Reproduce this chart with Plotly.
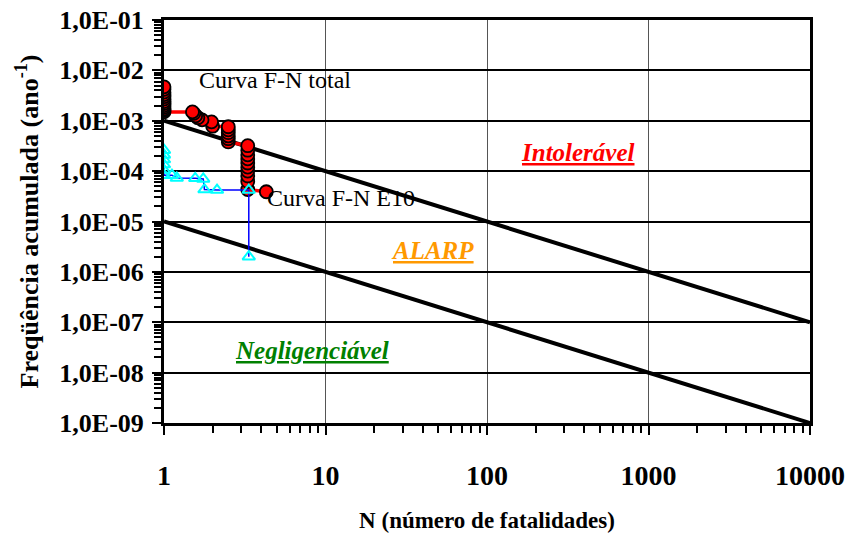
import plotly.graph_objects as go

# ---------------- data ----------------
# F-N curve "total" (red circles)
n_total = [1, 1, 1, 1, 1, 1, 1, 1, 1, 1, 1, 1, 1,
           1.5, 1.53, 1.57, 1.62, 1.72, 1.97, 2.0,
           2.5, 2.5, 2.5, 2.5, 2.5, 2.5,
           3.3, 3.3, 3.3, 3.3, 3.3, 3.3, 3.3, 3.3, 3.3, 3.3,
           4.3]
f_total = [4.7e-3, 4.2e-3, 3.7e-3, 3.3e-3, 3.0e-3, 2.7e-3, 2.4e-3, 2.2e-3, 2.0e-3, 1.85e-3, 1.7e-3, 1.6e-3, 1.5e-3,
           1.5e-3, 1.4e-3, 1.25e-3, 1.15e-3, 1.04e-3, 9.5e-4, 7.8e-4,
           7.6e-4, 6.6e-4, 5.8e-4, 5.0e-4, 4.4e-4, 3.8e-4,
           3.2e-4, 2.6e-4, 2.1e-4, 1.75e-4, 1.45e-4, 1.2e-4, 1.0e-4, 8.0e-5, 6.2e-5, 4.3e-5,
           3.9e-5]

# F-N curve "E10" (cyan triangles)
n_e10 = [1, 1, 1, 1, 1, 1, 1.12, 1.2, 1.56, 1.75, 1.78, 2.13, 3.35, 3.35]
f_e10 = [2.6e-4, 2.1e-4, 1.7e-4, 1.35e-4, 1.05e-4, 8.3e-5, 8.3e-5, 7.3e-5, 7.2e-5, 7.0e-5,
         4.3e-5, 4.2e-5, 4.2e-5, 2.0e-6]

# Tolerability criteria lines
crit_n = [1, 10000]
crit_upper = [1e-3, 1e-7]
crit_lower = [1e-5, 1e-9]

# Tick labels
x_tickvals = [1, 10, 100, 1000, 10000]
x_ticktext = ["1", "10", "100", "1000", "10000"]
y_tickvals = [1e-1, 1e-2, 1e-3, 1e-4, 1e-5, 1e-6, 1e-7, 1e-8, 1e-9]
y_ticktext = ["1,0E-01", "1,0E-02", "1,0E-03", "1,0E-04", "1,0E-05",
              "1,0E-06", "1,0E-07", "1,0E-08", "1,0E-09"]

SERIF = "Liberation Serif"

fig = go.Figure()

# criteria lines
fig.add_trace(go.Scatter(x=crit_n, y=crit_upper, mode="lines",
                         line=dict(color="black", width=4), hoverinfo="skip"))
fig.add_trace(go.Scatter(x=crit_n, y=crit_lower, mode="lines",
                         line=dict(color="black", width=4), hoverinfo="skip"))

# total curve: line, then markers drawn bottom-up so top marker of each column stays red
fig.add_trace(go.Scatter(x=n_total, y=f_total, mode="lines",
                         line=dict(color="#FF0000", width=3.5)))
fig.add_trace(go.Scatter(x=n_total[::-1], y=f_total[::-1], mode="markers",
                         marker=dict(symbol="circle", size=13, color="#FF0000",
                                     line=dict(color="black", width=1.8))))

# E10 curve
fig.add_trace(go.Scatter(x=n_e10, y=f_e10, mode="lines+markers",
                         line=dict(color="#0000FF", width=1.5),
                         marker=dict(symbol="triangle-up-open", size=11, color="#00FFFF",
                                     line=dict(color="#00FFFF", width=2))))

def px_x(p):
    return (p - 164) / 646.0

def px_y(p):
    return (423 - p) / 403.0

annotations = [
    dict(text="Curva F-N total", x=px_x(197), y=px_y(80), xanchor="left", yanchor="middle",
         font=dict(family=SERIF, size=24, color="black")),
    dict(text="Curva F-N E10", x=px_x(265), y=px_y(198), xanchor="left", yanchor="middle",
         font=dict(family=SERIF, size=24, color="black")),
    dict(text="<b><i><u>Intolerável</u></i></b>", x=px_x(578), y=px_y(152), xanchor="center", yanchor="middle",
         font=dict(family=SERIF, size=25, color="#FF0000")),
    dict(text="<b><i><u>ALARP</u></i></b>", x=px_x(432), y=px_y(250), xanchor="center", yanchor="middle",
         font=dict(family=SERIF, size=25, color="#FF9900")),
    dict(text="<b><i><u>Negligenciável</u></i></b>", x=px_x(312), y=px_y(350), xanchor="center", yanchor="middle",
         font=dict(family=SERIF, size=25, color="#008000")),
]
for a in annotations:
    a.update(xref="paper", yref="paper", showarrow=False)

fig.update_layout(
    width=850, height=541,
    margin=dict(l=164, r=40, t=20, b=118, autoexpand=False),
    paper_bgcolor="white", plot_bgcolor="white",
    showlegend=False,
    annotations=annotations,
    font=dict(family=SERIF, color="black"),
)

fig.update_xaxes(
    type="log", range=[0, 4], automargin=False,
    tickvals=x_tickvals, ticktext=x_ticktext,
    tickfont=dict(family=SERIF, size=28, color="black", weight="bold"),
    ticks="outside", ticklen=9, tickwidth=2, tickcolor="black",
    ticklabelstandoff=16,
    showgrid=True, gridcolor="#555555", gridwidth=1,
    showline=True, linecolor="black", linewidth=3, mirror=True,
    zeroline=False,
    minor=dict(ticks="outside", ticklen=7, tickwidth=2, tickcolor="black", dtick="D1", showgrid=False),
    title=dict(text="<b>N (número de fatalidades)</b>", standoff=23,
               font=dict(family=SERIF, size=23, color="black")),
)
fig.update_yaxes(
    type="log", range=[-9, -1], automargin=False,
    tickvals=y_tickvals, ticktext=y_ticktext,
    tickfont=dict(family=SERIF, size=26, color="black", weight="bold"),
    ticks="outside", ticklen=9, tickwidth=2, tickcolor="black",
    ticklabelstandoff=3,
    showgrid=True, gridcolor="black", gridwidth=2,
    showline=True, linecolor="black", linewidth=3, mirror=True,
    zeroline=False,
    minor=dict(ticks="outside", ticklen=7, tickwidth=2, tickcolor="black", dtick="D1", showgrid=False),
    title=dict(text="<b>Freqüência acumulada (ano<sup>-1</sup>)</b>", standoff=14,
               font=dict(family=SERIF, size=26, color="black")),
)

fig.write_html("out.html")
